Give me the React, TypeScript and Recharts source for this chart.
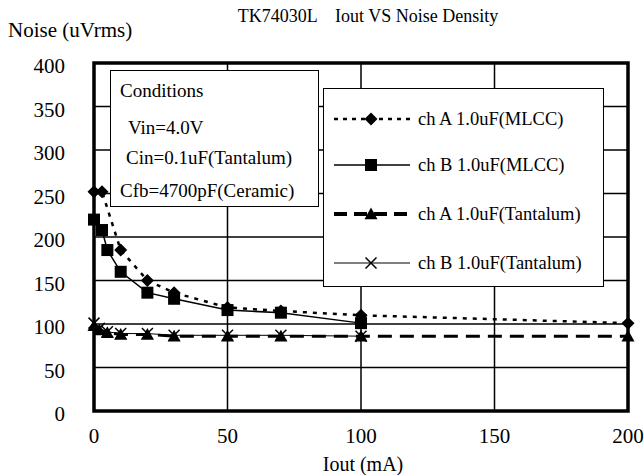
import React from "react";
import { LineChart, Line, XAxis, YAxis, CartesianGrid, ReferenceArea } from "recharts";

const xTicks = [0, 50, 100, 150, 200];
const yTicks = [0, 50, 100, 150, 200, 250, 300, 350, 400];

const seriesNames = [
  "ch A 1.0uF(MLCC)",
  "ch B 1.0uF(MLCC)",
  "ch A 1.0uF(Tantalum)",
  "ch B 1.0uF(Tantalum)",
];

const xA_MLCC = [0, 3, 10, 20, 30, 50, 70, 100, 200];
const yA_MLCC = [252, 252, 185, 150, 136, 119, 115, 110, 101];

const xB_MLCC = [0, 3, 5, 10, 20, 30, 50, 70, 100];
const yB_MLCC = [220, 208, 185, 160, 136, 129, 116, 113, 101];

const xA_Tant = [0, 2, 5, 10, 20, 30, 50, 70, 100, 200];
const yA_Tant = [98, 93, 90, 88, 88, 86, 86, 86, 86, 86];

const xB_Tant = [0, 2, 5, 10, 20, 30, 50, 70, 100];
const yB_Tant = [101, 95, 91, 89, 89, 87, 87, 87, 86];

const conditions = ["Conditions", "Vin=4.0V", "Cin=0.1uF(Tantalum)", "Cfb=4700pF(Ceramic)"];

const zip = (xs: number[], ys: number[]) => xs.map((x, i) => ({ x, y: ys[i] }));

const FONT = "'Liberation Serif', 'Times New Roman', serif";

const Diamond = (props: any) => {
  const { cx, cy } = props;
  if (cx == null || cy == null) return null;
  const r = 6.5;
  return <path d={`M${cx},${cy - r} L${cx + r},${cy} L${cx},${cy + r} L${cx - r},${cy} Z`} fill="#000" />;
};
const Square = (props: any) => {
  const { cx, cy } = props;
  if (cx == null || cy == null) return null;
  const r = 6;
  return <rect x={cx - r} y={cy - r} width={2 * r} height={2 * r} fill="#000" />;
};
const Triangle = (props: any) => {
  const { cx, cy } = props;
  if (cx == null || cy == null) return null;
  const r = 6.5;
  return <path d={`M${cx},${cy - r} L${cx + r},${cy + r * 0.8} L${cx - r},${cy + r * 0.8} Z`} fill="#000" />;
};
const Cross = (props: any) => {
  const { cx, cy } = props;
  if (cx == null || cy == null) return null;
  const r = 5.5;
  return (
    <path d={`M${cx - r},${cy - r} L${cx + r},${cy + r} M${cx - r},${cy + r} L${cx + r},${cy - r}`} stroke="#000" strokeWidth={1.5} fill="none" />
  );
};

const legendStyles = [
  { dash: "4 5", width: 2.5, Marker: Diamond },
  { dash: undefined, width: 1.5, Marker: Square },
  { dash: "13 7", width: 4, Marker: Triangle },
  { dash: undefined, width: 1.2, Marker: Cross },
];
const legendRows = [30, 76, 125, 174];

export default function App() {
  return (
    <div style={{ position: "absolute", left: 0, top: 0, width: 644, height: 475, background: "#fff", fontFamily: FONT }}>
      <LineChart width={644} height={475} margin={{ top: 63, right: 16, bottom: 34, left: 0 }}>
        <CartesianGrid stroke="#000" strokeWidth={1.5} />
        <XAxis
          type="number"
          dataKey="x"
          domain={[0, 200]}
          ticks={xTicks}
          tickLine={false}
          axisLine={false}
          height={30}
          tick={{ fill: "#000", fontSize: 21, fontFamily: FONT }}
          tickMargin={11}
          allowDuplicatedCategory={false}
        />
        <YAxis
          type="number"
          domain={[0, 400]}
          ticks={yTicks}
          tickLine={false}
          axisLine={false}
          width={94}
          tick={{ fill: "#000", fontSize: 21, fontFamily: FONT, dy: 3 }}
          tickMargin={23}
        />
        <ReferenceArea x1={0} x2={200} y1={0} y2={400} fill="none" stroke="#000" strokeWidth={3.5} fillOpacity={0} />
        <Line data={zip(xA_Tant, yA_Tant)} dataKey="y" stroke="#000" strokeWidth={3} strokeDasharray="14 8" dot={<Triangle />} isAnimationActive={false} name={seriesNames[2]} />
        <Line data={zip(xB_Tant, yB_Tant)} dataKey="y" stroke="#000" strokeWidth={1} dot={<Cross />} isAnimationActive={false} name={seriesNames[3]} />
        <Line data={zip(xB_MLCC, yB_MLCC)} dataKey="y" stroke="#000" strokeWidth={1.5} dot={<Square />} isAnimationActive={false} name={seriesNames[1]} />
        <Line data={zip(xA_MLCC, yA_MLCC)} dataKey="y" stroke="#000" strokeWidth={2.5} strokeDasharray="4 6" dot={<Diamond />} isAnimationActive={false} name={seriesNames[0]} />
      </LineChart>

      <div style={{ position: "absolute", left: 0, top: 6, width: 644, textAlign: "center", paddingLeft: 92, boxSizing: "border-box", fontSize: 18, whiteSpace: "pre" }}>
        {"TK74030L    Iout VS Noise Density"}
      </div>
      <div style={{ position: "absolute", left: 8, top: 18, fontSize: 21 }}>Noise (uVrms)</div>
      <div style={{ position: "absolute", left: 94, width: 538, top: 454, height: 20, lineHeight: "20px", textAlign: "center", fontSize: 20 }}>Iout (mA)</div>

      <div style={{ position: "absolute", left: 110, top: 70, width: 209, height: 137, border: "1.5px solid #000", background: "#fff", boxSizing: "border-box", fontSize: 19 }}>
        <div style={{ position: "absolute", left: 9, top: 9 }}>{conditions[0]}</div>
        <div style={{ position: "absolute", left: 17, top: 46 }}>{conditions[1]}</div>
        <div style={{ position: "absolute", left: 15, top: 76 }}>{conditions[2]}</div>
        <div style={{ position: "absolute", left: 9, top: 109 }}>{conditions[3]}</div>
      </div>

      <div style={{ position: "absolute", left: 323, top: 88, width: 281, height: 199, border: "1.5px solid #000", background: "#fff", boxSizing: "border-box", fontSize: 18.5 }}>
        {seriesNames.map((n, i) => {
          const s = legendStyles[i];
          const M = s.Marker;
          const cy = legendRows[i];
          return (
            <React.Fragment key={n}>
              <svg style={{ position: "absolute", left: 8, top: cy - 10 }} width={80} height={20}>
                <line x1={2} y1={10} x2={78} y2={10} stroke="#000" strokeWidth={s.width} strokeDasharray={s.dash} />
                <M cx={39} cy={10} />
              </svg>
              <div style={{ position: "absolute", left: 94, top: cy - 11, lineHeight: "22px", whiteSpace: "nowrap" }}>{n}</div>
            </React.Fragment>
          );
        })}
      </div>
    </div>
  );
}
